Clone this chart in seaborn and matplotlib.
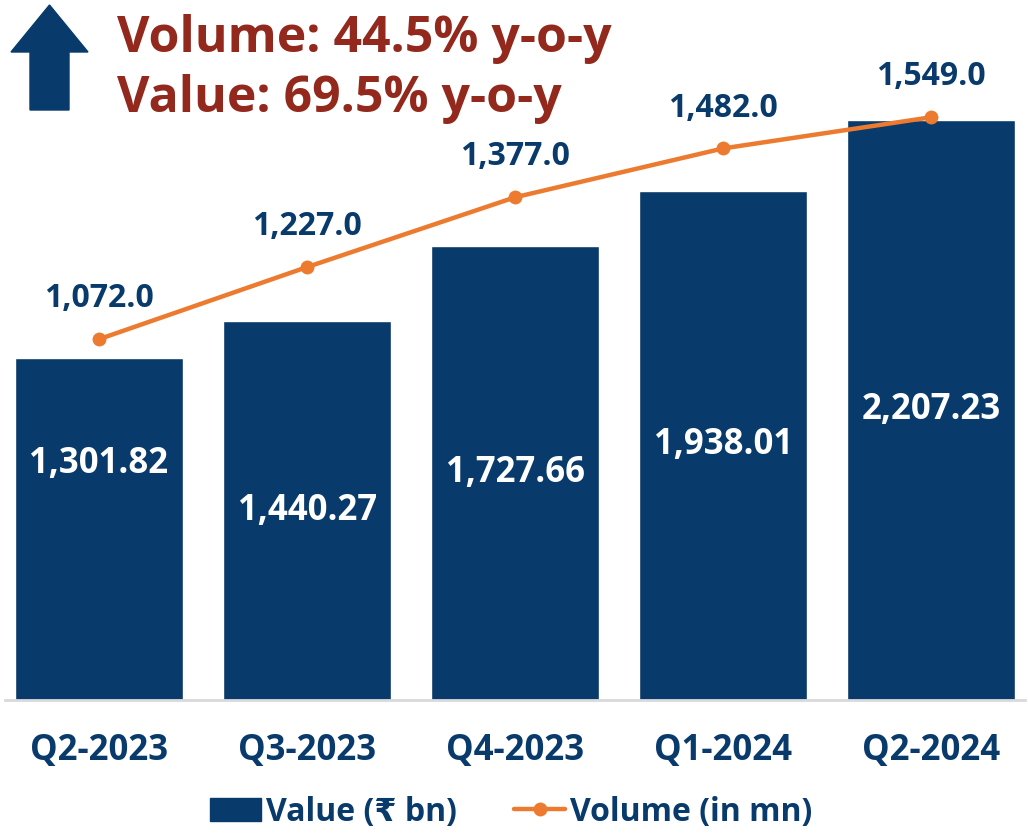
import numpy as np
import pandas as pd
import matplotlib
matplotlib.use('Agg')
import matplotlib.pyplot as plt
from matplotlib.patches import FancyArrow, Patch
from matplotlib.lines import Line2D
import seaborn as sns

# chart data
quarters = ['Q2-2023', 'Q3-2023', 'Q4-2023', 'Q1-2024', 'Q2-2024']
value_bn = [1301.82, 1440.27, 1727.66, 1938.01, 2207.23]
volume_mn = [1072.0, 1227.0, 1377.0, 1482.0, 1549.0]
headline = ['Volume: 44.5% y-o-y', 'Value: 69.5% y-o-y']

NAVY = '#083A6B'
ORANGE = '#EC7A2F'
RED = '#93281D'

sns.set_theme(style='white')
plt.rcParams['font.family'] = ['Open Sans', 'DejaVu Sans']
plt.rcParams['font.weight'] = 'bold'

df = pd.DataFrame({'quarter': quarters, 'value': value_bn, 'volume': volume_mn})

fig = plt.figure(figsize=(10.28, 8.33), dpi=100)
ax = fig.add_axes([0.0053, 0.1597, 0.9915, 0.828])

# bars (value)
sns.barplot(data=df, x='quarter', y='value', color=NAVY, saturation=1,
            width=0.81, ax=ax)
ax.set_ylim(0, 2624)
ax.set_xlim(-0.45, 4.45)
ax.set_xlabel('')
ax.set_ylabel('')
ax.set_yticks([])
for s in ['top', 'left', 'right']:
    ax.spines[s].set_visible(False)
ax.spines['bottom'].set_color('#D9D9D9')
ax.spines['bottom'].set_linewidth(2)
ax.tick_params(axis='x', length=0, pad=24, labelsize=25, labelcolor=NAVY)
for lab in ax.get_xticklabels():
    lab.set_fontweight('bold')

# value labels inside bars
for i, v in enumerate(value_bn):
    y = v * 0.69 if i == 0 else v / 2
    ax.text(i, y, f'{v:,.2f}', ha='center', va='center', color='white',
            fontsize=25, fontweight='bold')

# line (volume) on secondary axis
ax2 = ax.twinx()
sns.lineplot(x=np.arange(len(quarters)), y=volume_mn, color=ORANGE,
             linewidth=3.2, marker='o', markersize=10, markeredgewidth=0,
             ax=ax2)
ax2.set_ylim(296.5, 1779)
ax2.set_yticks([])
ax2.set_xlim(-0.45, 4.45)
for s in ax2.spines.values():
    s.set_visible(False)
for i, v in enumerate(volume_mn):
    ax2.annotate(f'{v:,.1f}', (i, v), xytext=(0, 29), textcoords='offset points',
                 ha='center', va='center', color=NAVY, fontsize=23,
                 fontweight='bold')

# headline arrow and text
fig.patches.append(FancyArrow(0.495, 7.23, 0, 1.05, width=0.39, head_width=0.77,
                              head_length=0.47, length_includes_head=True,
                              color=NAVY, transform=fig.dpi_scale_trans))
fig.text(117 / 1028, 1 - 39 / 833, headline[0], ha='left', va='center',
         color=RED, fontsize=36, fontweight='bold')
fig.text(117 / 1028, 1 - 99 / 833, headline[1], ha='left', va='center',
         color=RED, fontsize=36, fontweight='bold')

# legend
handles = [Patch(facecolor=NAVY, edgecolor=NAVY),
           Line2D([0], [0], color=ORANGE, lw=3.2, marker='o', markersize=10,
                  markeredgewidth=0)]
fig.legend(handles, ['Value (₹ bn)', 'Volume (in mn)'], loc='center',
           bbox_to_anchor=(0.497, 0.025), ncol=2, frameon=False,
           prop={'size': 23, 'weight': 'bold'}, labelcolor=NAVY,
           handlelength=1.6, handleheight=0.75, handletextpad=0.15,
           columnspacing=1.8)

fig.savefig('out.png', dpi=100)
